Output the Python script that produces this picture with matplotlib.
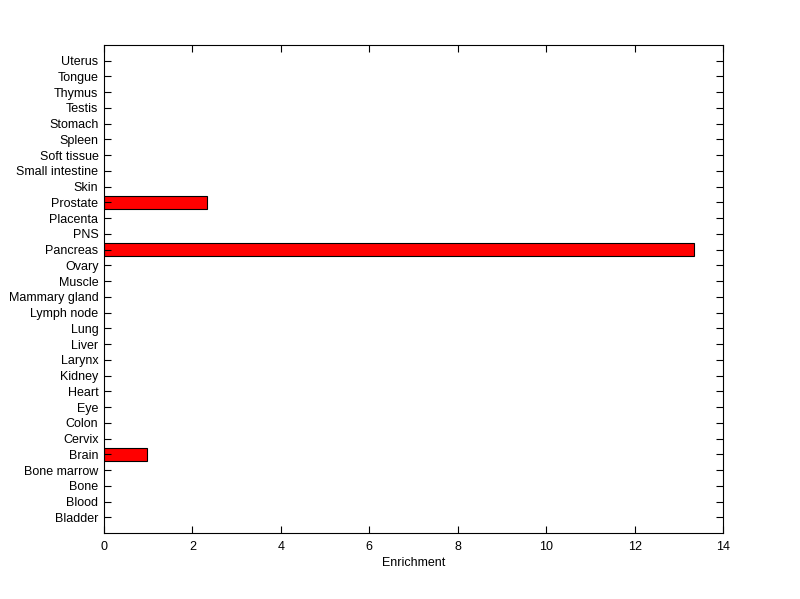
import numpy as np
import matplotlib
matplotlib.use("Agg")
import matplotlib.pyplot as plt

tissues = ["Bladder", "Blood", "Bone", "Bone marrow", "Brain", "Cervix", "Colon",
           "Eye", "Heart", "Kidney", "Larynx", "Liver", "Lung", "Lymph node",
           "Mammary gland", "Muscle", "Ovary", "Pancreas", "PNS", "Placenta",
           "Prostate", "Skin", "Small intestine", "Soft tissue", "Spleen",
           "Stomach", "Testis", "Thymus", "Tongue", "Uterus"]
enrichment = [0, 0, 0, 0, 0.98, 0, 0, 0, 0, 0, 0, 0, 0, 0, 0, 0, 0, 13.34, 0, 0,
              2.32, 0, 0, 0, 0, 0, 0, 0, 0, 0]

plt.rcParams['font.family'] = ['Liberation Sans', 'DejaVu Sans']

fig = plt.figure(figsize=(8, 5.99), dpi=100)
ax = fig.add_axes([0.13, 0.1102, 0.77375, 0.8147])

y = np.arange(len(tissues))
vals = np.array(enrichment)
mask = vals > 0
ax.barh(y[mask], vals[mask], height=0.8, color="#ff0000", edgecolor="black", linewidth=0.8)

ax.set_xlim(0, 14)
ax.set_ylim(-1, 30)
ax.set_xticks(np.arange(0, 15, 2))
ax.set_yticks(y)
ax.set_yticklabels(tissues)
ax.tick_params(direction="in", top=True, right=True, labelsize=9, length=5, width=0.8)
ax.tick_params(axis="x", pad=6)
ax.tick_params(axis="y", pad=4)
for s in ax.spines.values():
    s.set_linewidth(0.8)
ax.set_xlabel("Enrichment", fontsize=9, labelpad=3)

fig.savefig("out.png", dpi=100)
